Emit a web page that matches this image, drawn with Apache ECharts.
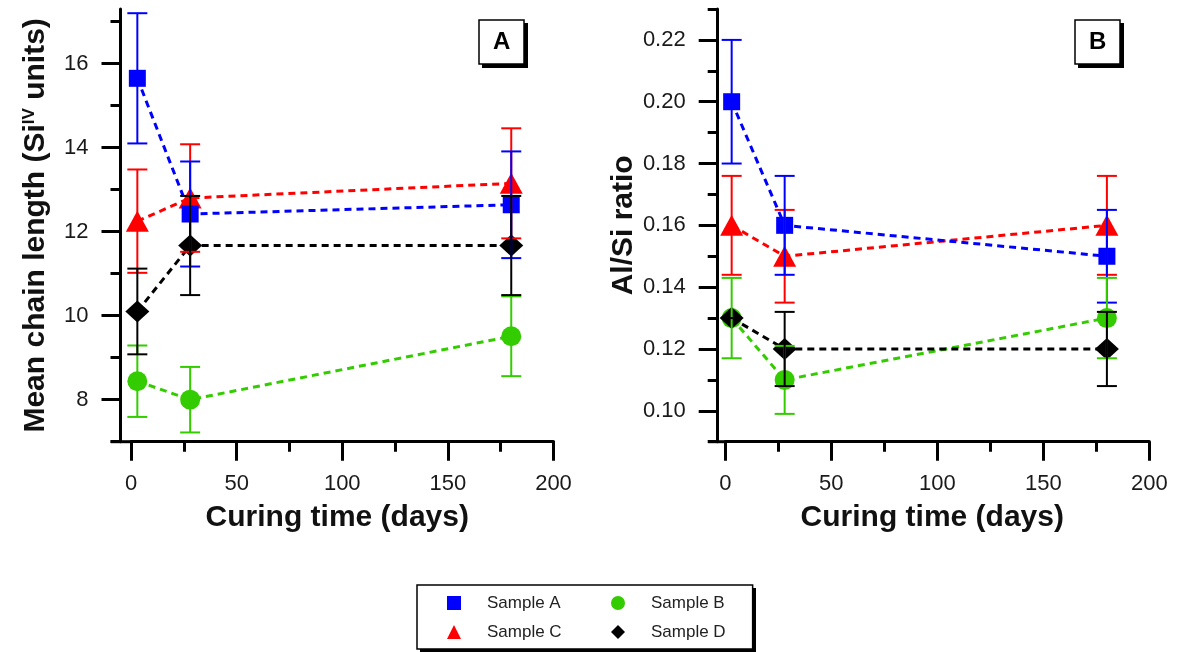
<!DOCTYPE html>
<html>
<head>
<meta charset="utf-8">
<script src="https://cdn.jsdelivr.net/npm/echarts@6/dist/echarts.min.js"></script>
<style>
  html, body { margin: 0; padding: 0; background: #fff; }
  #chart { width: 1177px; height: 652px; }
</style>
</head>
<body>
<div id="chart"></div>
<script>
// curing times (days)
const days = [3, 28, 180];

// panel A: mean chain length
const chainA = [15.65, 12.42, 12.64];
const chainAErr = [1.55, 1.25, 1.27];
const chainB = [8.44, 8.0, 9.51];
const chainBErr = [0.85, 0.78, 0.95];
const chainC = [12.25, 12.8, 13.15];
const chainCErr = [1.23, 1.28, 1.31];
const chainD = [10.1, 11.67, 11.67];
const chainDErr = [1.02, 1.18, 1.18];

// panel B: Al/Si ratio
const ratioA = [0.20, 0.16, 0.15];
const ratioAErr = [0.02, 0.016, 0.015];
const ratioB = [0.13, 0.11, 0.13];
const ratioBErr = [0.013, 0.011, 0.013];
const ratioC = [0.16, 0.15, 0.16];
const ratioCErr = [0.016, 0.015, 0.016];
const ratioD = [0.13, 0.12, 0.12];
const ratioDErr = [0, 0.012, 0.012];

// tick labels
const chainMajor = [8, 10, 12, 14, 16];
const chainMinor = [7, 9, 11, 13, 15, 17];
const ratioMajor = [0.10, 0.12, 0.14, 0.16, 0.18, 0.20, 0.22];
const ratioMinor = [0.09, 0.11, 0.13, 0.15, 0.17, 0.19, 0.21, 0.23];

const FONT = "'Liberation Sans', Arial, sans-serif";
const samples = {
  'Sample A': { color: '#0000ff', symbol: 'rect', size: 17 },
  'Sample B': { color: '#33cc00', symbol: 'circle', size: 20 },
  'Sample C': { color: '#ff0000', symbol: 'triangle', size: [23, 21] },
  'Sample D': { color: '#000000', symbol: 'diamond', size: [24, 22] }
};

const chart = echarts.init(document.getElementById('chart'), null, { renderer: 'canvas' });

function xAxisOf(grid) {
  return {
    type: 'value', gridIndex: grid, min: 0, max: 200, interval: 50,
    name: 'Curing time (days)', nameLocation: 'middle', nameGap: 61,
    nameTextStyle: { fontFamily: FONT, fontSize: 30, fontWeight: 'bold', color: '#111', padding: [0, 10, 0, 0] },
    axisLine: { onZero: false, lineStyle: { color: '#000', width: 3 } },
    axisTick: { length: 19, lineStyle: { color: '#000', width: 3 } },
    minorTick: { show: true, splitNumber: 2, length: 10, lineStyle: { color: '#000', width: 3 } },
    axisLabel: { fontFamily: FONT, fontSize: 22, color: '#1a1a1a', margin: 31 },
    splitLine: { show: false }
  };
}

function yMainOf(grid, min, max, major, offset, name, gap, fmt) {
  return {
    type: 'value', gridIndex: grid, position: 'left', min: min, max: max, offset: offset,
    name: name, nameLocation: 'middle', nameRotate: 90, nameGap: gap,
    nameTextStyle: {
      fontFamily: FONT, fontSize: 30, fontWeight: 'bold', color: '#111',
      rich: { sup: { fontFamily: FONT, fontSize: 17, fontWeight: 'bold', color: '#111', verticalAlign: 'top', lineHeight: 30 } }
    },
    axisLine: { onZero: false, lineStyle: { color: '#000', width: 3 } },
    axisTick: { customValues: major, length: 19, lineStyle: { color: '#000', width: 3 } },
    axisLabel: { customValues: major, fontFamily: FONT, fontSize: 22, color: '#1a1a1a', margin: 32, formatter: fmt },
    splitLine: { show: false }
  };
}

function yMinorOf(grid, min, max, minor, offset) {
  return {
    type: 'value', gridIndex: grid, position: 'left', min: min, max: max, offset: offset,
    axisLine: { show: false, onZero: false },
    axisTick: { customValues: minor, length: 10, lineStyle: { color: '#000', width: 3 } },
    axisLabel: { show: false },
    splitLine: { show: false }
  };
}

function lineSeries(name, xi, yi, vals) {
  const s = samples[name];
  return {
    type: 'line', name: name, xAxisIndex: xi, yAxisIndex: yi,
    data: days.map((d, i) => [d, vals[i]]),
    symbol: s.symbol, symbolSize: s.size,
    itemStyle: { color: s.color, opacity: 1 },
    lineStyle: { color: s.color, width: 3, type: [7, 5] },
    z: 2, animation: false
  };
}

function renderErr(params, api) {
  const x = api.value(0);
  const lo = api.coord([x, api.value(1)]);
  const hi = api.coord([x, api.value(2)]);
  const color = api.visual('color');
  const half = 10;
  const st = { stroke: color, lineWidth: 2 };
  return {
    type: 'group',
    children: [
      { type: 'line', shape: { x1: lo[0], y1: lo[1], x2: hi[0], y2: hi[1] }, style: st },
      { type: 'line', shape: { x1: lo[0] - half, y1: lo[1], x2: lo[0] + half, y2: lo[1] }, style: st },
      { type: 'line', shape: { x1: hi[0] - half, y1: hi[1], x2: hi[0] + half, y2: hi[1] }, style: st }
    ]
  };
}

function errSeries(name, xi, yi, vals, errs) {
  return {
    type: 'custom', name: name + ' err', xAxisIndex: xi, yAxisIndex: yi,
    data: days.map((d, i) => [d, vals[i] - errs[i], vals[i] + errs[i]]),
    encode: { x: 0, y: [1, 2] },
    renderItem: renderErr,
    itemStyle: { color: samples[name].color },
    z: 3, silent: true, animation: false
  };
}

const order = ['Sample C', 'Sample A', 'Sample B', 'Sample D'];
const chainVals = { 'Sample A': [chainA, chainAErr], 'Sample B': [chainB, chainBErr], 'Sample C': [chainC, chainCErr], 'Sample D': [chainD, chainDErr] };
const ratioVals = { 'Sample A': [ratioA, ratioAErr], 'Sample B': [ratioB, ratioBErr], 'Sample C': [ratioC, ratioCErr], 'Sample D': [ratioD, ratioDErr] };

const series = [];
order.forEach(n => series.push(lineSeries(n, 0, 0, chainVals[n][0])));
order.forEach(n => series.push(lineSeries(n, 1, 2, ratioVals[n][0])));
order.forEach(n => series.push(errSeries(n, 0, 0, chainVals[n][0], chainVals[n][1])));
order.forEach(n => series.push(errSeries(n, 1, 2, ratioVals[n][0], ratioVals[n][1])));

function boxTitle(text, left) {
  return {
    text: text, left: left, top: 20, padding: [10, 14],
    borderColor: '#000', borderWidth: 1.5, backgroundColor: '#fff',
    textStyle: { fontFamily: FONT, fontSize: 24, fontWeight: 'bold', color: '#000' }
  };
}

// solid drop shadow behind a framed box
function shadowRect(x, y, w, h) {
  return { type: 'rect', z: 1, silent: true, shape: { x: x + 3, y: y + 3, width: w, height: h }, style: { fill: '#000' } };
}

const legendText = { fontFamily: FONT, fontSize: 17, color: '#222', lineHeight: 18 };

const option = {
  backgroundColor: '#fff',
  animation: false,
  title: [boxTitle('A', 479), boxTitle('B', 1075)],
  grid: [
    { left: 131, top: 9, width: 422.5, height: 432.7, outerBoundsMode: 'none' },
    { left: 725.3, top: 9, width: 424, height: 432.7, outerBoundsMode: 'none' }
  ],
  xAxis: [xAxisOf(0), xAxisOf(1)],
  yAxis: [
    yMainOf(0, 7, 17.3, chainMajor, 10.5, 'Mean chain length (Si{sup|IV} units)', 70, v => String(v)),
    yMinorOf(0, 7, 17.3, chainMinor, 10.5),
    yMainOf(1, 0.09, 0.23, ratioMajor, 7.6, 'Al/Si ratio', 74, v => v.toFixed(2)),
    yMinorOf(1, 0.09, 0.23, ratioMinor, 7.6)
  ],
  legend: {
    left: 417, top: 585, width: 300, orient: 'horizontal',
    padding: [9, 27, 8, 30], itemGap: 11, itemWidth: 14, itemHeight: 14,
    selectedMode: false, z: 6,
    borderColor: '#000', borderWidth: 1.5, backgroundColor: '#fff',
    data: [
      { name: 'Sample A', icon: 'rect' },
      { name: 'Sample B', icon: 'circle' },
      { name: 'Sample C', icon: 'triangle' },
      { name: 'Sample D', icon: 'diamond' }
    ],
    formatter: name => (name === 'Sample A' || name === 'Sample C')
      ? '{g|}{w|' + name + '}' : '{g|}{n|' + name + '}',
    textStyle: Object.assign({}, legendText, {
      rich: {
        g: { width: 21, fontSize: 17, lineHeight: 18 },
        w: Object.assign({ width: 113 }, legendText),
        n: Object.assign({}, legendText)
      }
    })
  },
  graphic: [
    // x axis line runs a little left of the y axis, as in the original plot
    { type: 'line', shape: { x1: 110.7, y1: 441.7, x2: 132, y2: 441.7 }, style: { stroke: '#000', lineWidth: 3 } },
    { type: 'line', shape: { x1: 708, y1: 441.7, x2: 726, y2: 441.7 }, style: { stroke: '#000', lineWidth: 3 } },
    shadowRect(417, 585, 336, 64),
    shadowRect(479, 20, 46, 45),
    shadowRect(1075, 20, 46, 45)
  ],
  series: series
};

chart.setOption(option);
</script>
</body>
</html>
